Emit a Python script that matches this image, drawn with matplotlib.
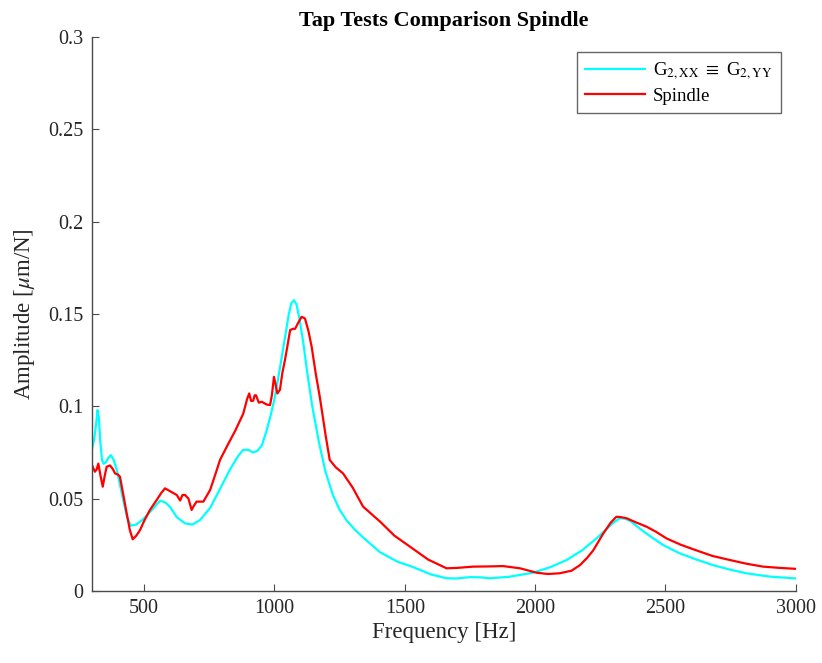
import matplotlib
matplotlib.use("Agg")
import matplotlib.pyplot as plt

plt.rcParams["font.family"] = ["Liberation Serif", "DejaVu Serif"]
plt.rcParams["mathtext.fontset"] = "stix"

# Frequency response of the modelled spindle (G2,XX = G2,YY)
freq_model = [300, 308, 316, 321, 326, 331, 338, 344, 352, 362, 372, 383, 395,
              408, 420, 434, 448, 470, 497, 530, 561, 580, 599, 625, 657, 685,
              714, 753, 790, 830, 860, 879, 900, 918, 935, 952, 970, 985, 1000,
              1020, 1040, 1055, 1065, 1075, 1085, 1095, 1110, 1125, 1145, 1170,
              1195, 1224, 1250, 1278, 1310, 1340, 1405, 1470, 1531, 1600, 1660,
              1700, 1750, 1790, 1827, 1900, 1992, 2060, 2121, 2180, 2236, 2270,
              2300, 2325, 2345, 2370, 2400, 2428, 2490, 2555, 2620, 2683, 2750,
              2811, 2900, 3000]
amp_model = [0.077, 0.082, 0.091, 0.098, 0.094, 0.082, 0.071, 0.069, 0.0695,
             0.072, 0.0736, 0.071, 0.0655, 0.057, 0.049, 0.040, 0.0354, 0.036,
             0.039, 0.044, 0.049, 0.048, 0.0456, 0.040, 0.0366, 0.036, 0.0384,
             0.045, 0.055, 0.066, 0.073, 0.0764, 0.0765, 0.075, 0.076, 0.079,
             0.087, 0.095, 0.104, 0.120, 0.137, 0.150, 0.156, 0.1575, 0.155,
             0.148, 0.135, 0.119, 0.100, 0.081, 0.065, 0.052, 0.044, 0.038,
             0.033, 0.029, 0.021, 0.016, 0.013, 0.009, 0.0069, 0.0068, 0.0075,
             0.0074, 0.0069, 0.0077, 0.0099, 0.013, 0.0168, 0.022, 0.0285,
             0.033, 0.037, 0.0394, 0.0392, 0.0375, 0.034, 0.031, 0.025, 0.0204,
             0.017, 0.014, 0.0115, 0.0096, 0.0078, 0.0068]

# Measured tap test on the spindle
freq_spindle = [300, 311, 318, 324, 333, 341, 348, 356, 369, 380, 388, 400, 407,
                420, 433, 445, 456, 470, 484, 500, 522, 548, 565, 580, 600, 625,
                638, 647, 657, 670, 682, 690, 701, 727, 753, 775, 791, 820, 850,
                880, 895, 903, 910, 918, 924, 929, 940, 951, 970, 983, 990, 998,
                1004, 1011, 1021, 1030, 1040, 1050, 1060, 1070, 1079, 1090, 1104,
                1117, 1130, 1143, 1158, 1174, 1197, 1212, 1235, 1263, 1300, 1340,
                1405, 1460, 1520, 1590, 1660, 1700, 1762, 1820, 1877, 1942, 2006,
                2050, 2094, 2140, 2172, 2200, 2223, 2261, 2290, 2312, 2330, 2351,
                2390, 2428, 2465, 2504, 2560, 2619, 2680, 2747, 2810, 2875, 2940,
                3000]
amp_spindle = [0.068, 0.0646, 0.066, 0.069, 0.062, 0.0565, 0.062, 0.0673, 0.068,
               0.066, 0.0637, 0.063, 0.0619, 0.052, 0.042, 0.033, 0.028, 0.030,
               0.033, 0.038, 0.0439, 0.0493, 0.053, 0.0556, 0.054, 0.052, 0.049,
               0.052, 0.052, 0.050, 0.0439, 0.046, 0.0484, 0.0484, 0.0547, 0.064,
               0.071, 0.079, 0.087, 0.096, 0.104, 0.107, 0.103, 0.103, 0.106,
               0.106, 0.102, 0.1025, 0.101, 0.1007, 0.106, 0.116, 0.112, 0.107,
               0.109, 0.118, 0.125, 0.133, 0.1413, 0.142, 0.142, 0.145, 0.1485,
               0.1476, 0.141, 0.132, 0.118, 0.105, 0.0836, 0.071, 0.067, 0.0637,
               0.056, 0.0457, 0.0376, 0.030, 0.024, 0.017, 0.0123, 0.0125, 0.0132,
               0.0133, 0.0135, 0.0123, 0.0099, 0.0092, 0.0096, 0.011, 0.014,
               0.018, 0.022, 0.031, 0.037, 0.0402, 0.040, 0.0394, 0.037, 0.0348,
               0.032, 0.0285, 0.025, 0.022, 0.019, 0.0168, 0.0148, 0.0132, 0.0125,
               0.0120]

x_ticks = [500, 1000, 1500, 2000, 2500, 3000]
y_ticks = [0, 0.05, 0.1, 0.15, 0.2, 0.25, 0.3]
y_tick_labels = ["0", "0.05", "0.1", "0.15", "0.2", "0.25", "0.3"]

axis_color = "#4a4a4a"

fig = plt.figure(figsize=(8.22, 6.63), dpi=100)
ax = fig.add_axes([0.112, 0.1086, 0.856, 0.8354])

ax.plot(freq_model, amp_model, color=(0, 1, 1), lw=1.6,
        label=r"G$_{2,\mathrm{XX}}$ $\equiv$ G$_{2,\mathrm{YY}}$")
ax.plot(freq_spindle, amp_spindle, color=(1, 0, 0), lw=1.6, label="Spindle")

ax.set_xlim(300, 3000)
ax.set_ylim(0, 0.3)
ax.set_xticks(x_ticks)
ax.set_xticklabels([str(t) for t in x_ticks])
ax.set_yticks(y_ticks)
ax.set_yticklabels(y_tick_labels)

for side in ("top", "right"):
    ax.spines[side].set_visible(False)
for side in ("left", "bottom"):
    ax.spines[side].set_color(axis_color)
    ax.spines[side].set_linewidth(1.0)

ax.tick_params(direction="in", length=5, width=0.8, color=axis_color,
               labelcolor="#262626", labelsize=14.5, pad=6)

ax.set_xlabel("Frequency [Hz]", fontsize=16.5, color="#262626", labelpad=3)
ax.set_ylabel(r"Amplitude [$\mu$m/N]", fontsize=16.5, color="#262626", labelpad=8)
ax.set_title("Tap Tests Comparison Spindle", fontsize=16, fontweight="bold",
             color="black", pad=8)

leg = ax.legend(loc="upper right", fontsize=13.5, frameon=True, fancybox=False,
                borderpad=0.45, labelspacing=0.3, handlelength=3.2,
                handletextpad=0.4, borderaxespad=0.8)
leg.get_frame().set_edgecolor("#404040")
leg.get_frame().set_linewidth(1.0)

fig.savefig("out.png", dpi=100)
